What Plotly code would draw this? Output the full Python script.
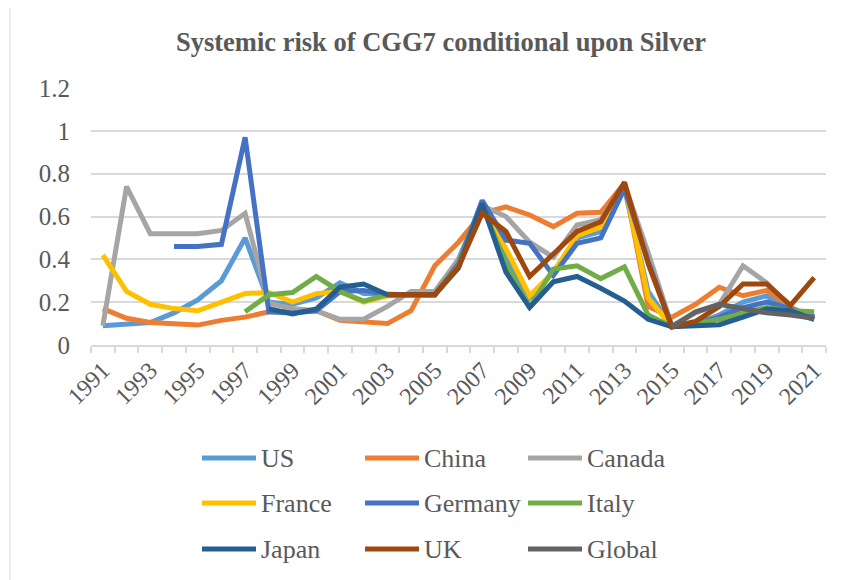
import plotly.graph_objects as go

years = list(range(1991, 2022))

us = [0.09, 0.10, 0.105, 0.15, 0.21, 0.30, 0.50, 0.20, 0.19, 0.22, 0.29, 0.24, 0.235, 0.235, 0.235,
      0.40, 0.66, 0.42, 0.22, 0.34, 0.50, 0.53, 0.73, 0.25, 0.085, 0.10, 0.14, 0.20, 0.23, 0.15, 0.12]
china = [0.17, 0.125, 0.105, 0.097, 0.093, 0.115, 0.13, 0.155, 0.155, 0.16, 0.115, 0.11, 0.10, 0.16, 0.37,
         0.48, 0.615, 0.645, 0.607, 0.553, 0.615, 0.62, 0.755, 0.18, 0.13, 0.19, 0.27, 0.23, 0.255, 0.175, 0.13]
canada = [0.09, 0.74, 0.52, 0.52, 0.52, 0.535, 0.615, 0.195, 0.17, 0.16, 0.12, 0.12, 0.18, 0.25, 0.25,
          0.40, 0.65, 0.60, 0.48, 0.41, 0.56, 0.585, 0.75, 0.43, 0.09, 0.15, 0.19, 0.37, 0.29, 0.175, 0.125]
france = [0.42, 0.25, 0.19, 0.17, 0.16, 0.20, 0.24, 0.245, 0.20, 0.24, 0.25, 0.20, 0.23, 0.235, 0.235,
          0.38, 0.66, 0.45, 0.23, 0.34, 0.51, 0.55, 0.75, 0.22, 0.085, 0.10, 0.13, 0.16, 0.17, 0.16, 0.13]
germany = [None, None, None, 0.46, 0.46, 0.47, 0.97, 0.155, 0.15, 0.16, 0.25, 0.255, 0.235, 0.235, 0.235,
           0.38, 0.675, 0.49, 0.475, 0.325, 0.475, 0.50, 0.73, 0.39, 0.085, 0.10, 0.13, 0.175, 0.20, 0.17, 0.13]
italy = [None, None, None, None, None, None, 0.155, 0.235, 0.245, 0.32, 0.25, 0.205, 0.235, 0.235, 0.235,
         0.37, 0.65, 0.38, 0.175, 0.355, 0.37, 0.31, 0.365, 0.14, 0.085, 0.10, 0.12, 0.148, 0.175, 0.16, 0.155]
japan = [None, None, None, None, None, None, None, 0.17, 0.145, 0.168, 0.27, 0.285, 0.235, 0.235, 0.235,
         0.36, 0.66, 0.34, 0.175, 0.295, 0.32, 0.265, 0.205, 0.12, 0.085, 0.09, 0.095, 0.13, 0.168, 0.16, 0.12]
uk = [None] * 12 + [0.235, 0.235, 0.235, 0.365, 0.615, 0.53, 0.32, 0.425, 0.53, 0.575, 0.76, 0.38,
                    0.085, 0.11, 0.18, 0.285, 0.285, 0.185, 0.315]
global_ = [None] * 24 + [0.085, 0.155, 0.19, 0.17, 0.15, 0.14, 0.125]

names = ["US", "China", "Canada", "France", "Germany", "Italy", "Japan", "UK", "Global"]
series = [us, china, canada, france, germany, italy, japan, uk, global_]
colors = ["#5B9BD5", "#ED7D31", "#A5A5A5", "#FFC000", "#4472C4", "#70AD47", "#255E91", "#9E480E", "#636363"]

tick_years = list(range(1991, 2022, 2))
tick_text = [str(y) for y in tick_years]

FONT = "Liberation Serif, Times New Roman, serif"
TXT = "#595959"
GRID = "#D9D9D9"

# page has an 8px body margin: work in window pixels, shift into figure pixels
OFF = 8
W, H = 861 - OFF, 580 - OFF
PL, PR, PT, PB = 91, 826, 88, 345          # plot area in window pixels
L, R, T, B = PL - OFF, W - (PR - OFF), PT - OFF, H - (PB - OFF)
PW, PH = PR - PL, PB - PT


def px(x):
    return (x - PL) / PW


def py(y):
    return (PB - y) / PH


fig = go.Figure()
for name, vals, col in zip(names, series, colors):
    fig.add_trace(go.Scatter(
        x=years, y=vals, name=name, mode="lines",
        line=dict(color=col, width=5), connectgaps=False, showlegend=False,
    ))

# manual legend, 3 columns x 3 rows
shapes = []
annotations = []
col_x = [202, 365, 528]
row_y = [458, 503, 549]
for i, (name, col) in enumerate(zip(names, colors)):
    cx = col_x[i % 3]
    ry = row_y[i // 3]
    shapes.append(dict(type="line", xref="paper", yref="paper",
                       x0=px(cx), x1=px(cx + 54), y0=py(ry), y1=py(ry),
                       line=dict(color=col, width=5)))
    annotations.append(dict(text=name, xref="paper", yref="paper",
                            x=px(cx + 57), y=py(ry), xanchor="left", yanchor="middle",
                            showarrow=False, font=dict(family=FONT, size=26, color=TXT)))

# chart border
shapes.append(dict(type="rect", xref="paper", yref="paper",
                   x0=px(10), x1=px(880), y0=py(5), y1=py(600),
                   line=dict(color=GRID, width=1), fillcolor="rgba(0,0,0,0)", layer="below"))

fig.update_layout(
    width=W, height=H,
    margin=dict(l=L, r=R, t=T, b=B, autoexpand=False),
    paper_bgcolor="white", plot_bgcolor="white",
    title=dict(text="<b>Systemic risk of CGG7 conditional upon Silver</b>",
               font=dict(family=FONT, size=26.5, color=TXT),
               xref="paper", x=px(441), xanchor="center",
               yref="container", y=1 - (42 - OFF) / H, yanchor="middle"),
    xaxis=dict(
        range=[1990.5, 2021.5], tickmode="array", tickvals=tick_years, ticktext=tick_text,
        tickangle=-45, ticks="", showgrid=False, zeroline=False,
        showline=True, linecolor=GRID, linewidth=1.5,
        tickfont=dict(family=FONT, size=24, color=TXT),
        minor=dict(ticks="outside", dtick=1, tick0=1990.5, ticklen=6, tickcolor=GRID, tickwidth=1.5, showgrid=False),
    ),
    yaxis=dict(
        range=[0, 1.2], dtick=0.2, tick0=0, showgrid=True, gridcolor=GRID, gridwidth=1.5,
        zeroline=False, showline=False, ticks="",
        tickfont=dict(family=FONT, size=25, color=TXT), ticklabelstandoff=20,
    ),
    shapes=shapes, annotations=annotations,
    font=dict(family=FONT, color=TXT),
)

fig.write_html("out.html")
